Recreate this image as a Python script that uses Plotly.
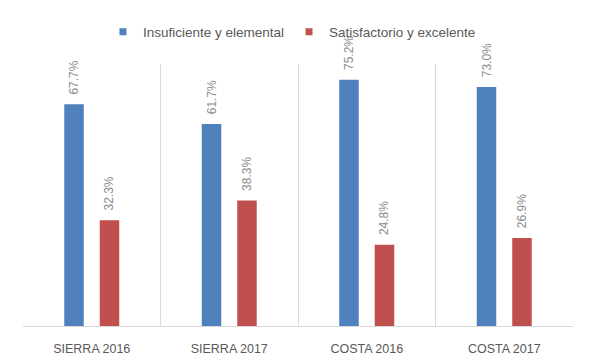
import plotly.graph_objects as go

categories = ["SIERRA 2016", "SIERRA 2017", "COSTA 2016", "COSTA 2017"]
series_names = ["Insuficiente y elemental", "Satisfactorio y excelente"]
insuficiente = [67.7, 61.7, 75.2, 73.0]
satisfactorio = [32.3, 38.3, 24.8, 26.9]
colors = ["#4f81bd", "#c0504d"]

fig = go.Figure()
for name, vals, col in zip(series_names, [insuficiente, satisfactorio], colors):
    fig.add_trace(go.Bar(
        x=categories, y=vals, name=name, marker_color=col, marker_line_width=0,
        text=[f"\u00a0\u00a0{v:.1f}%" for v in vals], textposition="outside", textangle=-90,
        constraintext="none", cliponaxis=False, showlegend=False,
        textfont=dict(family="Liberation Sans", size=12, color="#8c8c8c"),
        hoverinfo="skip",
    ))
    # legend entry with small square marker
    fig.add_trace(go.Scatter(
        x=[None], y=[None], mode="markers", name=name,
        marker=dict(symbol="square", size=7, color=col),
    ))

fig.update_layout(
    width=592, height=358,
    margin=dict(l=23, r=19, t=64, b=32),
    paper_bgcolor="white", plot_bgcolor="white",
    barmode="group", bargap=0.484, bargroupgap=0.45,
    showlegend=True,
    legend=dict(orientation="h", x=0.489, xanchor="center", y=1.122, yanchor="middle",
                bgcolor="rgba(0,0,0,0)",
                font=dict(family="Liberation Sans", size=13.5, color="#595959"),
                itemwidth=30, tracegroupgap=0),
    xaxis=dict(tickson="boundaries", showgrid=True, gridcolor="#d9d9d9", gridwidth=1,
               showline=True, linecolor="#d9d9d9", linewidth=1, ticks="",
               tickfont=dict(family="Liberation Sans", size=12.5, color="#595959"),
               ticklabelstandoff=11, automargin=False, fixedrange=True),
    yaxis=dict(range=[0, 80], visible=False, showgrid=False, zeroline=False, fixedrange=True),
)

fig.write_html("out.html", config={"displayModeBar": False},
               post_script="document.body.style.margin='0px';")
